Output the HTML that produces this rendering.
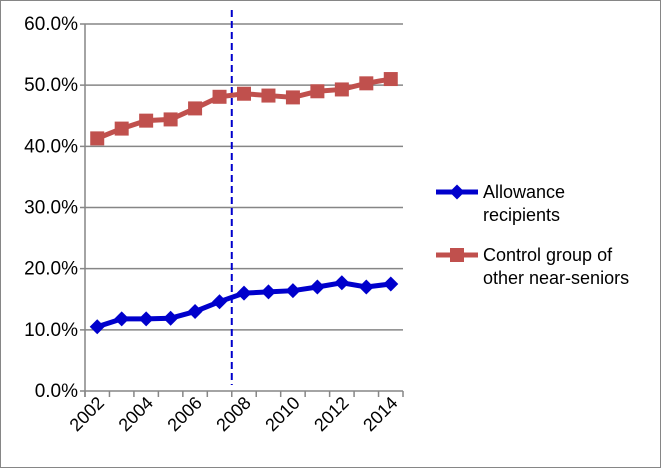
<!DOCTYPE html>
<html><head><meta charset="utf-8"><style>
html,body{margin:0;padding:0;background:#fff}
svg{display:block;font-family:"Liberation Sans",Calibri,sans-serif}
</style></head><body>
<svg width="661" height="468">
<rect x="0.5" y="0.5" width="660" height="467" fill="#fff" stroke="#868686"/>
<g id="grid"></g><g id="axes"></g><g id="series"></g><g id="legend"></g>
</svg>
<script>
const years=["2002","2003","2004","2005","2006","2007","2008","2009","2010","2011","2012","2013","2014"];
const allowance=[10.5,11.8,11.8,11.9,13.0,14.6,16.0,16.2,16.4,17.0,17.7,17.0,17.5];
const control=[41.3,42.9,44.2,44.4,46.2,48.1,48.6,48.3,48.0,49.0,49.3,50.3,51.0];
const yTicks=[0,10,20,30,40,50,60];
const NS="http://www.w3.org/2000/svg";
const X0=85,X1=403,Y0=391,Y1=24;
const bw=(X1-X0)/years.length;
function xc(i){return X0+bw*(i+0.5);}
function xb(i){return X0+bw*i;}
function y(v){return Y0-(v/60)*(Y0-Y1);}
function mk(t,a,p){const e=document.createElementNS(NS,t);for(const k in a)e.setAttribute(k,a[k]);p.appendChild(e);return e;}
const grid=document.getElementById('grid'),axes=document.getElementById('axes'),ser=document.getElementById('series'),leg=document.getElementById('legend');
yTicks.forEach(t=>{
  const l=mk('line',{x1:X0-5,x2:X1,y1:y(t),y2:y(t),stroke:'#868686','stroke-width':1.5},grid);
  
  
  const tx=mk('text',{x:X0-7,y:y(t)+6,'text-anchor':'end','font-size':19,fill:'#000'},axes);
  tx.textContent=t.toFixed(1)+'%';
  
  
});
let a=mk('line',{x1:X0,x2:X0,y1:Y1,y2:Y0+6,stroke:'#868686','stroke-width':1.5},axes);


for(let i=0;i<=years.length;i++){
  const t=mk('line',{x1:xb(i),x2:xb(i),y1:Y0,y2:Y0+6,stroke:'#868686','stroke-width':1.5},axes);
  
  
}
years.forEach((yr,i)=>{
  if(i%2)return;
  const px=xc(i)+8,py=404;
  const t=mk('text',{x:px,y:py,'text-anchor':'end','font-size':18,transform:`rotate(-45 ${px} ${py})`},axes);
  t.textContent=yr;
  
  
});
const dl=mk('line',{x1:xb(6),x2:xb(6),y1:10,y2:385,stroke:'#0000CC','stroke-width':2,'stroke-dasharray':'7,4'},ser);


function line(vals,col,name,marker){
  const p=mk('polyline',{points:vals.map((v,i)=>xc(i)+','+y(v)).join(' '),fill:'none',stroke:col,'stroke-width':5},ser);
  
  
  vals.forEach((v,i)=>{
    const m=marker(xc(i),y(v));
    
    
  });
}
function diamond(cx,cy,p){return mk('polygon',{points:`${cx},${cy-7.5} ${cx+7.5},${cy} ${cx},${cy+7.5} ${cx-7.5},${cy}`,fill:'#0000CC'},p||ser);}
function square(cx,cy,p){return mk('rect',{x:cx-7,y:cy-7,width:14,height:14,fill:'#C0504D'},p||ser);}
line(control,'#C0504D','control-group',square);
line(allowance,'#0000CC','allowance',diamond);
const l1=mk('line',{x1:436,x2:478,y1:192,y2:192,stroke:'#0000CC','stroke-width':5},leg);


const d1=diamond(457,192,leg);


[['Allowance',198],['recipients',221]].forEach(([s,yy])=>{const t=mk('text',{x:483,y:yy,'font-size':18},leg);t.textContent=s;});
const l2=mk('line',{x1:436,x2:478,y1:255,y2:255,stroke:'#C0504D','stroke-width':5},leg);


const s2=square(457,255,leg);


[['Control group of',261],['other near-seniors',284]].forEach(([s,yy])=>{const t=mk('text',{x:483,y:yy,'font-size':18},leg);t.textContent=s;});
</script>
</body></html>
